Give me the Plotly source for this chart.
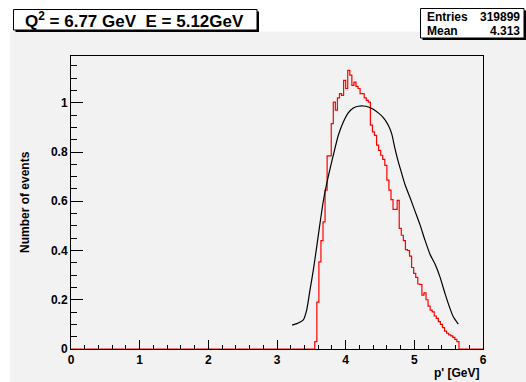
import numpy as np
import plotly.graph_objects as go

# ---- data ----
bin_lo = 3.55
bin_width = 0.03
hist_vals = [0.03, 0.19, 0.354, 0.44, 0.516, 0.645, 0.784, 0.784, 0.915, 1.003,
             0.97, 1.02, 1.037, 1.03, 1.091, 1.058, 1.132, 1.112, 1.071, 1.084,
             1.067, 1.058, 1.037, 1.037, 1.02, 1.01, 1.003, 0.909, 0.882, 0.868,
             0.828, 0.807, 0.787, 0.77, 0.746, 0.686, 0.645, 0.607, 0.567, 0.567,
             0.604, 0.49, 0.462, 0.44, 0.404, 0.40, 0.377, 0.331, 0.307, 0.291,
             0.264, 0.262, 0.219, 0.228, 0.2, 0.174, 0.158, 0.151, 0.134, 0.124,
             0.111, 0.1, 0.087, 0.073, 0.064, 0.057, 0.053, 0.047, 0.039, 0.03]

curve_p = [3.22, 3.29, 3.383, 3.432, 3.48, 3.529, 3.578, 3.626, 3.674, 3.724,
           3.82, 3.893, 3.966, 4.038, 4.111, 4.184, 4.257, 4.33, 4.402, 4.475,
           4.548, 4.621, 4.67, 4.718, 4.767, 4.816, 4.864, 4.937, 5.01, 5.082,
           5.155, 5.228, 5.301, 5.373, 5.446, 5.519, 5.567, 5.64]
curve_v = [0.097, 0.103, 0.118, 0.158, 0.239, 0.32, 0.415, 0.51, 0.6, 0.672,
           0.787, 0.868, 0.922, 0.959, 0.979, 0.986, 0.987, 0.983, 0.974, 0.959,
           0.94, 0.909, 0.875, 0.814, 0.76, 0.713, 0.668, 0.615, 0.56, 0.505,
           0.442, 0.385, 0.345, 0.293, 0.226, 0.165, 0.131, 0.101]

x_range = [0, 6]
y_range = [0, 1.19]

title_text = "<b>Q<sup>2</sup> = 6.77 GeV  E = 5.12GeV</b>"
stats_labels = ["Entries", "Mean"]
stats_values = ["319899", "4.313"]
x_title = "p' [GeV]"
y_title = "Number of events"

# ---- histogram step line ----
n = len(hist_vals)
edges = bin_lo + bin_width * np.arange(n + 1)
hx = [x_range[0]] + list(edges) + [x_range[1]]
hy = [0.0] + list(hist_vals) + [0.0, 0.0]

W, H = 526, 382
L, R, T, B = 71, 43, 56, 33
PW, PH = W - L - R, H - T - B


def px(x):
    return (x - L) / PW


def py(y):
    return (H - B - y) / PH


FONT = "Liberation Sans, Arial, Helvetica, sans-serif"
GRAY = "#f2f2f2"

fig = go.Figure()
fig.add_trace(go.Scatter(x=hx, y=hy, mode="lines", line=dict(color="#ff0000", width=1.2, shape="hv"),
                         hoverinfo="skip", showlegend=False))
fig.add_trace(go.Scatter(x=curve_p, y=curve_v, mode="lines", line=dict(color="black", width=1.2, shape="spline", smoothing=0.6),
                         hoverinfo="skip", showlegend=False))

shapes = []
# white strips
shapes.append(dict(type="rect", xref="paper", yref="paper", x0=px(0), x1=px(10), y0=py(H), y1=py(0),
                   fillcolor="white", line=dict(width=0), layer="below"))
shapes.append(dict(type="rect", xref="paper", yref="paper", x0=px(0), x1=px(W), y0=py(31.5), y1=py(0),
                   fillcolor="white", line=dict(width=0), layer="below"))


def box(x0, y0, x1, y1):
    shapes.append(dict(type="rect", xref="paper", yref="paper", x0=px(x0 + 2), x1=px(x1 + 2), y0=py(y1 + 2), y1=py(y0 + 2),
                       fillcolor="black", line=dict(width=0), layer="above"))
    shapes.append(dict(type="rect", xref="paper", yref="paper", x0=px(x0), x1=px(x1), y0=py(y1), y1=py(y0),
                       fillcolor="white", line=dict(color="black", width=1), layer="above"))


box(13.5, 9.5, 257, 30)
box(420.5, 8.5, 524, 38)

annotations = []
annotations.append(dict(text=title_text, xref="paper", yref="paper", x=px(134), y=py(20), xanchor="center", yanchor="middle",
                        showarrow=False, font=dict(family=FONT, size=17, color="black")))
for i, (lab, val) in enumerate(zip(stats_labels, stats_values)):
    yy = 16.5 + 15 * i
    annotations.append(dict(text="<b>%s</b>" % lab, xref="paper", yref="paper", x=px(425), y=py(yy), xanchor="left",
                            yanchor="middle", showarrow=False, font=dict(family=FONT, size=12, color="black")))
    annotations.append(dict(text="<b>%s</b>" % val, xref="paper", yref="paper", x=px(522), y=py(yy), xanchor="right",
                            yanchor="middle", showarrow=False, font=dict(family=FONT, size=12, color="black")))
annotations.append(dict(text="<b>%s</b>" % x_title, xref="paper", yref="paper", x=px(482), y=py(372.5), xanchor="right",
                        yanchor="middle", showarrow=False, font=dict(family=FONT, size=12, color="black")))
annotations.append(dict(text="<b>%s</b>" % y_title, xref="paper", yref="paper", x=px(25), y=py(202), xanchor="center",
                        yanchor="middle", textangle=-90, showarrow=False, font=dict(family=FONT, size=12, color="black")))

fig.update_layout(
    width=W, height=H, margin=dict(l=L, r=R, t=T, b=B, pad=0),
    paper_bgcolor=GRAY, plot_bgcolor=GRAY,
    shapes=shapes, annotations=annotations, showlegend=False,
    xaxis=dict(range=x_range, showgrid=False, zeroline=False, showline=True, mirror=True, linecolor="black", linewidth=1,
               ticks="inside", ticklen=9, tickwidth=1, tickcolor="black", dtick=1, tick0=0,
               minor=dict(ticks="inside", ticklen=4, dtick=0.2, tickcolor="black", showgrid=False),
               tickfont=dict(family=FONT, size=12, color="black", weight="bold")),
    yaxis=dict(range=y_range, showgrid=False, zeroline=False, showline=True, mirror=True, linecolor="black", linewidth=1,
               ticks="inside", ticklen=12, tickwidth=1, tickcolor="black", dtick=0.2, tick0=0,
               minor=dict(ticks="inside", ticklen=6, dtick=0.05, tickcolor="black", showgrid=False),
               tickfont=dict(family=FONT, size=12, color="black", weight="bold")),
)

fig.write_html("out.html")
